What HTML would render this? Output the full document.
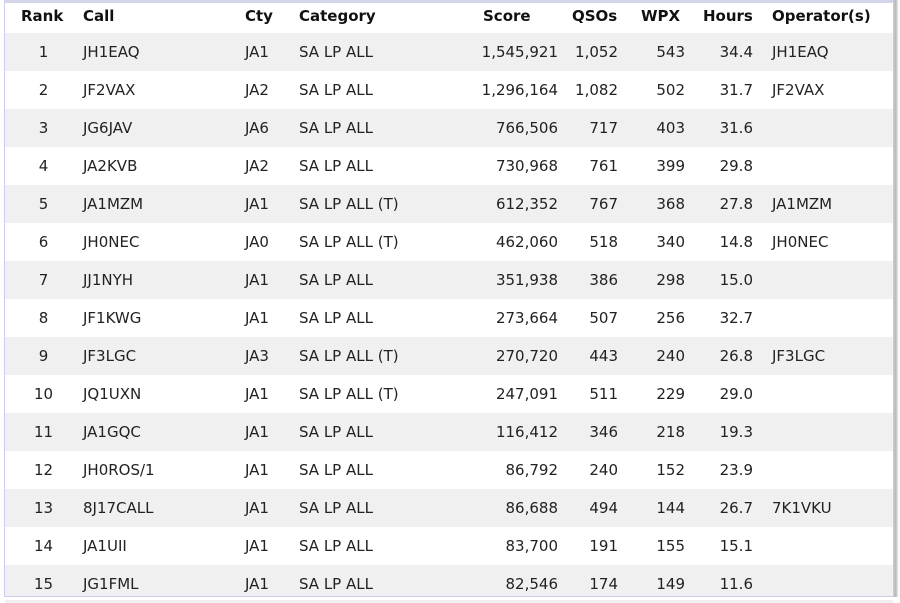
<!DOCTYPE html>
<html><head><meta charset="utf-8"><style>
html,body{margin:0;padding:0;background:#fff;width:900px;height:600px;overflow:hidden}
#f{position:absolute;left:4px;top:0;width:889px;height:597px;border-left:1px solid #ccccee;border-bottom:1px solid #ccccee;border-top:3px solid #d4d4ea;box-sizing:border-box;z-index:5}
#sh{position:absolute;left:893px;top:0;width:5px;height:597px;background:linear-gradient(to right,#d0d0d0,#b8b8b8,#e8e8e8);z-index:5}
#bot{position:absolute;left:0;top:597px;width:900px;height:3px;background:#fff;z-index:4}
.r{position:absolute;left:5px;width:888px;height:38px;font:15px "DejaVu Sans","Liberation Sans",sans-serif;color:#222}
.r.g{background:#f0f0f0}
.r span{position:absolute;top:10px;white-space:nowrap}
.h{font-weight:bold;color:#111}
.a{text-align:right}
</style></head><body>
<div id="f"></div><div id="sh"></div><div id="bot"></div>
<div id="rows"></div>
<script>
var d=[["1","JH1EAQ","JA1","SA LP ALL","1,545,921","1,052","543","34.4","JH1EAQ"],
["2","JF2VAX","JA2","SA LP ALL","1,296,164","1,082","502","31.7","JF2VAX"],
["3","JG6JAV","JA6","SA LP ALL","766,506","717","403","31.6",""],
["4","JA2KVB","JA2","SA LP ALL","730,968","761","399","29.8",""],
["5","JA1MZM","JA1","SA LP ALL (T)","612,352","767","368","27.8","JA1MZM"],
["6","JH0NEC","JA0","SA LP ALL (T)","462,060","518","340","14.8","JH0NEC"],
["7","JJ1NYH","JA1","SA LP ALL","351,938","386","298","15.0",""],
["8","JF1KWG","JA1","SA LP ALL","273,664","507","256","32.7",""],
["9","JF3LGC","JA3","SA LP ALL (T)","270,720","443","240","26.8","JF3LGC"],
["10","JQ1UXN","JA1","SA LP ALL (T)","247,091","511","229","29.0",""],
["11","JA1GQC","JA1","SA LP ALL","116,412","346","218","19.3",""],
["12","JH0ROS/1","JA1","SA LP ALL","86,792","240","152","23.9",""],
["13","8J17CALL","JA1","SA LP ALL","86,688","494","144","26.7","7K1VKU"],
["14","JA1UII","JA1","SA LP ALL","83,700","191","155","15.1",""],
["15","JG1FML","JA1","SA LP ALL","82,546","174","149","11.6",""]];
var h='<div class="r h" style="top:3px;height:30px"><span style="left:16px;top:4px">Rank</span><span style="left:78px;top:4px">Call</span><span style="left:240px;top:4px">Cty</span><span style="left:294px;top:4px">Category</span><span style="left:478px;top:4px">Score</span><span style="left:567px;top:4px">QSOs</span><span style="left:636px;top:4px">WPX</span><span style="left:698px;top:4px">Hours</span><span style="left:767px;top:4px">Operator(s)</span></div>';
for(var i=0;i<d.length;i++){var r=d[i];
h+='<div class="r'+(i%2==0?' g':'')+'" style="top:'+(33+i*38)+'px">'+
'<span style="text-align:center;left:16px;width:45px">'+r[0]+'</span>'+
'<span style="left:78px">'+r[1]+'</span>'+
'<span style="left:240px">'+r[2]+'</span>'+
'<span style="left:294px">'+r[3]+'</span>'+
'<span class="a" style="right:335px">'+r[4]+'</span>'+
'<span class="a" style="right:275px">'+r[5]+'</span>'+
'<span class="a" style="right:208px">'+r[6]+'</span>'+
'<span class="a" style="right:140px">'+r[7]+'</span>'+
'<span style="left:767px">'+r[8]+'</span></div>';}
document.getElementById('rows').innerHTML=h;
</script>
</body></html>
